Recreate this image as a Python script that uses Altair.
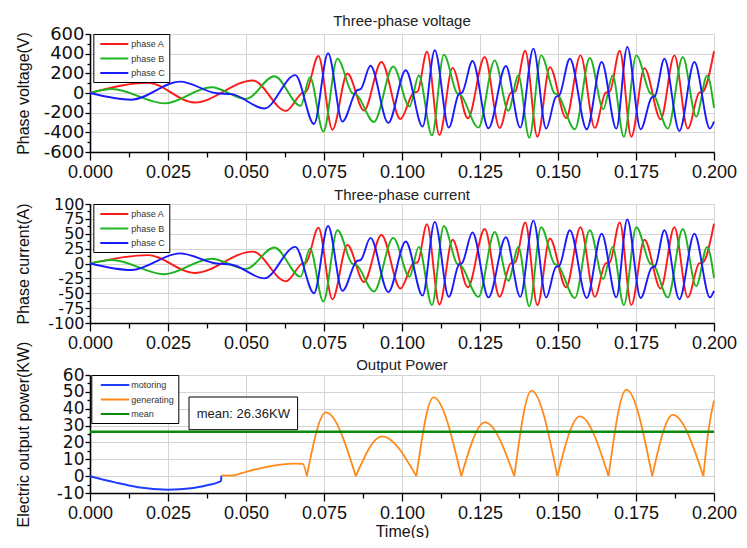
import altair as alt
import pandas as pd

FONT = "Liberation Sans"
YFONT = "DejaVu Sans"

# ---------------- data (times in ms) ----------------
red_t = [0, 18.6, 33.5, 52.2, 62.8, 68.0, 69.3, 73.2, 77.7, 82.5, 87.8, 93.4, 99.5, 103.6, 105.0,
         108.0, 112.0, 116.2, 121.1, 126.5, 131.3, 134.8, 136.3, 139.5, 143.4, 147.4, 152.6, 157.2,
         161.8, 165.2, 166.6, 169.8, 173.5, 177.7, 182.9, 187.3, 191.6, 195.2, 196.5, 200]
red_v = [0, 103, -96, 127, -181, 0, 15, 376, -373, 198, -178, 315, -265, 0, 15,
         420, -428, 256, -257, 366, -356, 0, 15, 430, -445, 263, -255, 383,
         -355, 0, 15, 430, -445, 253, -267, 383, -362, 0, 15, 425]
red_i = [0, 14, -16, 20, -30, 0, 2, 60, -60, 31, -31, 48, -42, 0, 2,
         66, -69, 40, -40, 58, -56, 0, 2, 69, -70, 42, -40, 61,
         -56, 0, 2, 69, -70, 40, -42, 61, -57, 0, 2, 67]

green_t = [0, 7, 23.9, 38.9, 50, 59.1, 67.5, 70.5, 74.8, 79.3, 84.0, 85.5, 91, 97.2, 102.4,
           105.4, 109.6, 113.4, 117.6, 118.8, 124.5, 129.7, 134.1, 137.3, 140.8, 144.6, 148.8,
           150.0, 155.4, 160.2, 164.5, 167.5, 171.1, 175.1, 179.5, 180.7, 185.2, 190, 194.3,
           197.8, 200]
green_v = [0, 41, -106, 58, -60, 171, -130, 160, -393, 350, 0, -20, -295, 270, -137,
           178, -431, 390, 0, -20, -352, 332, -181, 178, -455, 383, 0,
           -20, -369, 356, -164, 178, -445, 383, 0, -20, -362, 366, -240,
           178, -150]
green_i = [0, 6, -18, 8, -9, 27, -22, 25, -64, 56, 0, -3, -47, 43, -22,
           28, -70, 63, 0, -3, -56, 53, -29, 28, -72, 61, 0,
           -3, -58, 56, -26, 28, -70, 61, 0, -3, -57, 58, -38,
           28, -24]

blue_t = [0, 13.3, 28.8, 40.5, 45.5, 55.9, 65.8, 71.8, 76.3, 80.9, 85.5, 86.8, 89.9, 95.6, 101.2,
          106.6, 110.5, 115, 118.2, 119.3, 122.6, 127.7, 133.3, 137.9, 142.1, 146.2, 149.3,
          150.4, 153.8, 159.2, 164, 168.7, 172.2, 176.5, 180, 181.1, 184.1, 188.9, 193.7,
          198.7, 200]
blue_v = [0, -68, 116, -2, -12, -157, 182, -315, 404, -291, 25, 40, 277, -304, 232,
          -342, 434, -352, -10, 5, 325, -359, 275, -352, 451, -362, -40,
          -25, 349, -369, 315, -362, 469, -369, -45, -30, 349, -386, 315,
          -362, -290]
blue_i = [0, -11, 17, 0, -2, -25, 28, -50, 63, -46, 4, 6, 43, -48, 37,
          -54, 70, -56, -2, 1, 52, -57, 44, -56, 72, -57, -6,
          -4, 56, -58, 50, -57, 74, -58, -7, -5, 56, -60, 50,
          -57, -46]

motor_t = [0, 8, 15.4, 25, 32.5, 37.8, 41.2, 42.0, 42.1]
motor_p = [0, -3.7, -6.6, -8.0, -7.2, -5.3, -3.6, -2.8, 0.3]

gen_t = [42.2, 45.2, 50, 55.9, 61.2, 65.5, 68.2, 69.5,
         75.6, 85.2, 93.6, 104.6, 110.1, 119, 126.6, 136, 141.5, 149.8,
         157, 166.2, 171.9, 180.2, 186.8, 196.6, 198.0, 200]
gen_p = [0.5, 0.3, 2.6, 5.2, 6.8, 7.4, 7.3, 0,
         37.8, 0, 23.6, 0, 46.7, 0, 31.9, 0, 50.7, 0,
         35.5, 0, 51.3, 0, 36.3, 0, 24, 44.8]

mean_power = 26.36

panel_titles = ["Three-phase voltage", "Three-phase current", "Output Power"]
phase_names = ["phase A", "phase B", "phase C"]
phase_colors = ["#ff1a1a", "#1fb41f", "#1a1aff"]
power_names = ["motoring", "generating", "mean"]
power_colors = ["#1f3dff", "#ff8a1a", "#0a8a0a"]

x_ticks = [round(i * 0.0125, 4) for i in range(17)]

W = 624


def phase_frame(kind):
    rows = []
    for name, t, v, i in zip(phase_names, [red_t, green_t, blue_t],
                             [red_v, green_v, blue_v], [red_i, green_i, blue_i]):
        vals = v if kind == "v" else i
        for tt, vv in zip(t, vals):
            rows.append({"t": tt / 1000.0, "val": vv, "series": name})
    return pd.DataFrame(rows)


# generating segments split at the zero points (cusps)
gen_rows = []
seg = 0
for k, (tt, pp) in enumerate(zip(gen_t, gen_p)):
    gen_rows.append({"t": tt / 1000.0, "val": pp, "series": "generating", "seg": seg})
    if pp == 0 and 0 < k < len(gen_t) - 1:
        seg += 1
        gen_rows.append({"t": tt / 1000.0, "val": pp, "series": "generating", "seg": seg})
gen_df = pd.DataFrame(gen_rows)
motor_df = pd.DataFrame({"t": [x / 1000.0 for x in motor_t], "val": motor_p, "series": "motoring"})
mean_df = pd.DataFrame({"val": [mean_power], "series": ["mean"]})
ann_df = pd.DataFrame({"label": [f"mean: {mean_power}KW"]})


def x_axis(title):
    major = "round(datum.value*80) % 2 == 0"
    return alt.Axis(
        values=x_ticks, title=title,
        labelExpr=f"{major} ? format(datum.value, '.3f') : ''",
        tickSize={"expr": f"{major} ? 8 : 5"},
        gridOpacity={"expr": f"{major} ? 1 : 0"},
        labelPadding=3, labelFont=FONT, labelFontSize=18, labelColor="#111",
        labelFlush=False, labelOverlap=False,
        domainColor="black", domainWidth=1.6, tickColor="black", tickWidth=1.3,
        gridColor="#d4d4d4", gridWidth=1,
        titleFont=FONT, titleFontSize=16, titleFontWeight="normal", titleColor="#111",
        titlePadding=1,
    )


def y_axis(title, major, minor, lo, hi, title_pad, label_size):
    n = int(round((hi - lo) / minor))
    vals = [lo + k * minor for k in range(n + 1)]
    cond = f"abs(datum.value % {major}) < 0.001"
    return alt.Axis(
        values=vals, title=title,
        labelExpr=f"{cond} ? (datum.value + '') : ''",
        tickSize={"expr": f"{cond} ? 5 : 3"},
        gridOpacity={"expr": f"{cond} ? 1 : 0"},
        labelPadding=1, labelFont=YFONT, labelFontSize=label_size, labelColor="#111",
        labelFlush=False, labelOverlap=False,
        domainColor="black", domainWidth=1.6, tickColor="black", tickWidth=1.3,
        gridColor="#d4d4d4", gridWidth=1,
        titleFont=FONT, titleFontSize=16, titleFontWeight="normal", titleColor="#111",
        titlePadding=title_pad,
    )


def legend(x, y, label_offset, path):
    return alt.Legend(
        orient="none", legendX=x, legendY=y, title=None,
        strokeColor="black", fillColor="white", padding=4, cornerRadius=0,
        labelFont=FONT, labelFontSize=9, labelColor="#333",
        symbolType=path, symbolSize=100, symbolStrokeWidth=2,
        labelOffset=label_offset, rowPadding=3.5,
    )


def title_mark(text, width, off):
    df = pd.DataFrame({"title": [text]})
    return alt.Chart(df).mark_text(font=FONT, fontSize=15, color="#222",
                                   baseline="alphabetic", align="center").encode(
        x=alt.value(width / 2), y=alt.value(-off), text="title:N")


def phase_panel(kind, ytitle, major, minor, lo, hi, width, height, ttl, toff, tpad, lsize):
    df = phase_frame(kind)
    lines = alt.Chart(df).mark_line(interpolate="monotone", strokeWidth=1.9).encode(
        x=alt.X("t:Q", scale=alt.Scale(domain=[0, 0.2], nice=False), axis=x_axis(None)),
        y=alt.Y("val:Q", scale=alt.Scale(domain=[lo, hi], nice=False, zero=False),
                axis=y_axis(ytitle, major, minor, lo, hi, tpad, lsize)),
        color=alt.Color("series:N", scale=alt.Scale(domain=phase_names, range=phase_colors),
                        legend=legend(3.3, 0, 22, "M-0.6,0H5")),
        detail="series:N",
    )
    return alt.layer(lines, title_mark(ttl, width, toff)).properties(width=width, height=height)


volt = phase_panel("v", "Phase voltage(V)", 200, 100, -600, 600, W, 118,
                   panel_titles[0], 8, 12, 18)
curr = phase_panel("i", "Phase current(A)", 25, 12.5, -100, 100, W, 119,
                   panel_titles[1], 4, 16.5, 16)

pcolor = alt.Scale(domain=power_names, range=power_colors)
p_legend = legend(1.3, 0, 24, "M-0.1,0H5.6")
px = alt.X("t:Q", scale=alt.Scale(domain=[0, 0.2], nice=False), axis=x_axis("Time(s)"))
py = alt.Y("val:Q", scale=alt.Scale(domain=[-10, 60], nice=False, zero=False),
           axis=y_axis("Electric output power(KW)", 10, 5, -10, 60, 24.6, 17))

motor = alt.Chart(motor_df).mark_line(interpolate="monotone", strokeWidth=2).encode(
    x=px, y=py, color=alt.Color("series:N", scale=pcolor, legend=p_legend))
gen = alt.Chart(gen_df).mark_line(interpolate="monotone", strokeWidth=1.8).encode(
    x=px, y=py, color=alt.Color("series:N", scale=pcolor, legend=p_legend), detail="seg:N")
mean_rule = alt.Chart(mean_df).mark_rule(strokeWidth=2.4).encode(
    y=py, color=alt.Color("series:N", scale=pcolor, legend=p_legend))
box = alt.Chart(ann_df).mark_rect(fill="white", stroke="black", strokeWidth=1).encode(
    x=alt.value(99), x2=alt.value(207.6), y=alt.value(22), y2=alt.value(54.7))
box_txt = alt.Chart(ann_df).mark_text(font=FONT, fontSize=13, color="#222").encode(
    x=alt.value(153.3), y=alt.value(38.6), text="label:N")

power = alt.layer(motor, gen, mean_rule, box, box_txt,
                  title_mark(panel_titles[2], W, 5)).properties(width=W, height=118)

chart = alt.vconcat(volt, curr, power, spacing=52, bounds="flush").resolve_scale(
    color="independent").properties(
    padding={"left": 6, "top": 5, "right": 0, "bottom": -2}
).configure_view(strokeWidth=0).configure(background="white")

chart.save("out.html", embed_options={"renderer": "svg", "actions": False})
